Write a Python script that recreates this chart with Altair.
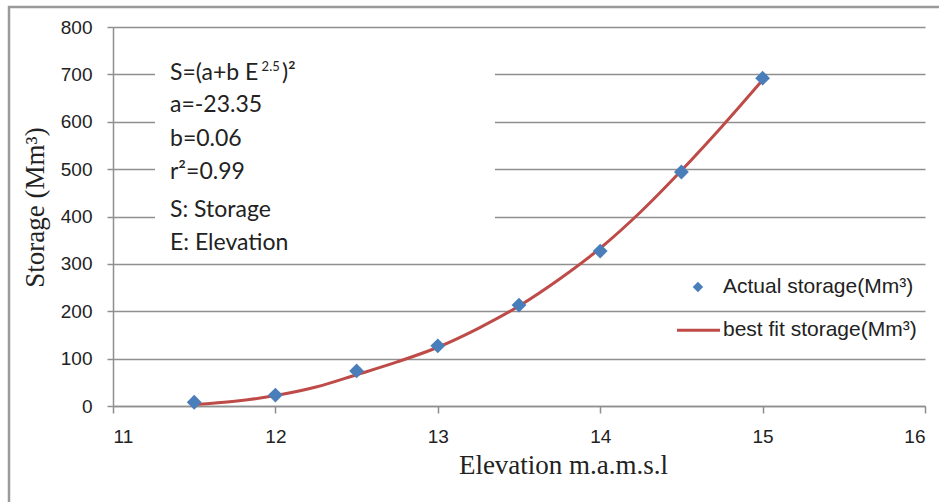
import altair as alt
import pandas as pd

# Observed reservoir storage against water-surface elevation
elevation = [11.5, 12.0, 12.5, 13.0, 13.5, 14.0, 14.5, 15.0]
storage = [8, 23, 74, 127, 213, 327, 494, 692]

# Fitted storage curve S = (a + b E^2.5)^2
fit_elevation = [11.5, 11.75, 12.0, 12.25, 12.5, 12.75, 13.0, 13.25,
                 13.5, 13.75, 14.0, 14.25, 14.5, 14.75, 15.0]
fit_storage = [3, 10, 22, 40, 66, 93, 124, 164,
               211, 268, 333, 410, 497, 590, 688]

# Equation annotation lines (first line is assembled with a raised exponent)
note_lines = ["S=(a+b E", "a=-23.35", "b=0.06", "r²=0.99",
              "S: Storage", "E: Elevation"]
note_y = [703, 635, 563, 494, 414, 344]
exponent = "2.5"
closing = ")²"

legend_labels = ["Actual storage(Mm³)", "best fit storage(Mm³)"]

BLUE = "#4a7ebb"
RED = "#be4b48"
GRID = "#8f8f8f"
INK = "#222222"

W, H = 812, 379

pts = pd.DataFrame({"E": elevation, "S": storage})
fit = pd.DataFrame({"E": fit_elevation, "S": fit_storage})
notes = pd.DataFrame({"t": note_lines, "y": note_y, "x": [11.351] * len(note_lines)})

xs = alt.Scale(domain=[11, 16], nice=False)
ys = alt.Scale(domain=[0, 800], nice=False)

x_axis = alt.Axis(values=[11, 12, 13, 14, 15, 16], format="d", title="Elevation m.a.m.s.l",
                  grid=False, tickSize=7, labelPadding=14,
                  titleX=450, titleY=67, titleBaseline="alphabetic",
                  titleAnchor="start", titleAlign="center")
y_axis = alt.Axis(values=[0, 100, 200, 300, 400, 500, 600, 700, 800], format="d",
                  title="Storage (Mm³)", grid=True, tickSize=6, labelPadding=15,
                  titleX=-70, titleY=180, titleBaseline="alphabetic",
                  titleAlign="center", titleAngle=270)

# Outer chart frame
frame = alt.Chart(pd.DataFrame({"k": [0]})).mark_rect(
    fill="transparent", stroke="#9a9a9a", strokeWidth=2.5
).encode(x=alt.value(-104), x2=alt.value(W + 60), y=alt.value(-20), y2=alt.value(H + 130))

axes = alt.Chart(pts).mark_point(opacity=0).encode(
    x=alt.X("E:Q", scale=xs, axis=x_axis),
    y=alt.Y("S:Q", scale=ys, axis=y_axis),
)

# White box behind the equation text
box = alt.Chart(pd.DataFrame({"x": [11.259], "x2": [13.352], "y": [312], "y2": [777]})).mark_rect(
    fill="white"
).encode(x=alt.X("x:Q", scale=xs), x2="x2:Q", y=alt.Y("y:Q", scale=ys), y2="y2:Q")

note_text = alt.Chart(notes).mark_text(
    align="left", baseline="middle", font="Lato", fontSize=23, color=INK
).encode(x=alt.X("x:Q", scale=xs), y=alt.Y("y:Q", scale=ys), text="t:N")

exp_text = alt.Chart(pd.DataFrame({"t": [exponent], "x": [11.915], "y": [716]})).mark_text(
    align="left", baseline="middle", font="Lato", fontSize=13, color=INK
).encode(x=alt.X("x:Q", scale=xs), y=alt.Y("y:Q", scale=ys), text="t:N")

close_text = alt.Chart(pd.DataFrame({"t": [closing], "x": [12.04], "y": [703]})).mark_text(
    align="left", baseline="middle", font="Lato", fontSize=23, color=INK
).encode(x=alt.X("x:Q", scale=xs), y=alt.Y("y:Q", scale=ys), text="t:N")

line = alt.Chart(fit).mark_line(color=RED, strokeWidth=3, interpolate="monotone").encode(
    x=alt.X("E:Q", scale=xs), y=alt.Y("S:Q", scale=ys)
)

points = alt.Chart(pts).mark_point(
    shape="diamond", filled=True, color=BLUE, size=220, opacity=1
).encode(x=alt.X("E:Q", scale=xs), y=alt.Y("S:Q", scale=ys))

# Legend drawn in data space
leg_sym = alt.Chart(pd.DataFrame({"x": [14.602], "y": [251]})).mark_point(
    shape="diamond", filled=True, color=BLUE, size=110, opacity=1
).encode(x=alt.X("x:Q", scale=xs), y=alt.Y("y:Q", scale=ys))
leg_line = alt.Chart(pd.DataFrame({"x": [14.473], "x2": [14.738], "y": [160]})).mark_rule(
    color=RED, strokeWidth=3
).encode(x=alt.X("x:Q", scale=xs), x2="x2:Q", y=alt.Y("y:Q", scale=ys))
leg_text = alt.Chart(pd.DataFrame({"t": legend_labels, "x": [14.756, 14.756], "y": [251, 160]})).mark_text(
    align="left", baseline="middle", font="Liberation Sans", fontSize=21, color=INK
).encode(x=alt.X("x:Q", scale=xs), y=alt.Y("y:Q", scale=ys), text="t:N")

chart = alt.layer(
    frame, axes, box, note_text, exp_text, close_text, line, points, leg_sym, leg_line, leg_text
).properties(
    width=W, height=H,
    autosize=alt.AutoSizeParams(type="none"),
    padding={"left": 113, "top": 27, "right": 14, "bottom": 96},
    background="white",
).configure_view(
    strokeOpacity=0
).configure_axis(
    domainColor=GRID, domainWidth=1.5, tickColor=GRID, tickWidth=1.5,
    gridColor=GRID, gridWidth=1.5, gridOpacity=1,
    labelFont="Liberation Sans", labelFontSize=19, labelColor=INK,
    titleFont="Liberation Serif", titleFontSize=27, titleFontWeight="normal",
    titleColor=INK,
)

chart.save("out.html", embed_options={"renderer": "svg", "actions": False})
